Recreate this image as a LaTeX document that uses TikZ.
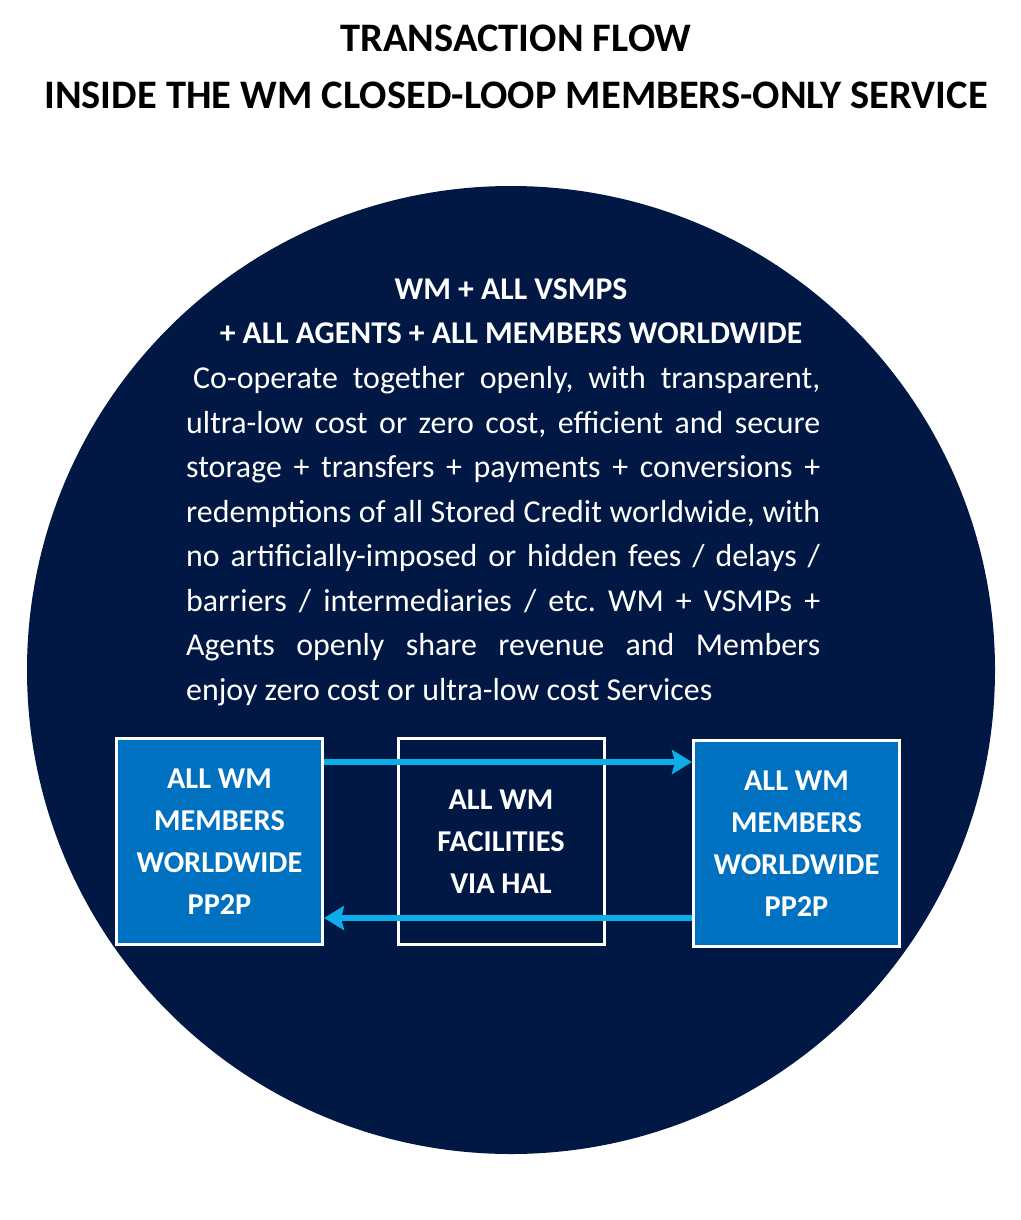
\documentclass[tikz,border=0pt]{standalone}
\usepackage{fontspec}
\setmainfont{Carlito}
\usepackage{tikz}
\usetikzlibrary{arrows.meta,positioning}
\definecolor{wmnavy}{RGB}{1,24,68}
\definecolor{wmblue}{RGB}{0,112,192}
\definecolor{wmflow}{RGB}{12,174,234}
\frenchspacing

\begin{document}
\begin{tikzpicture}[x=1pt, y=-1pt,
  memberbox/.style={draw=white, line width=3pt, fill=wmblue, minimum width=206pt, minimum height=206pt, align=center, text=white, font=\bfseries\fontsize{30.3}{42}\selectfont},
  hubbox/.style={memberbox, fill=wmnavy},
  flowarrow/.style={-{Stealth[length=20pt, width=24pt, inset=3pt]}, line width=5.5pt, draw=wmflow},
  heading/.style={align=center, font=\bfseries\fontsize{40.5}{57}\selectfont}
]
\useasboundingbox (0,0) rectangle (1020,1220);

\node[heading] (title) at (516, 67) {TRANSACTION FLOW\\INSIDE THE WM CLOSED-LOOP MEMBERS-ONLY SERVICE};

\node[circle, fill=wmnavy, minimum size=968pt, inner sep=0pt] (loop) at (511, 670) {};

\node[align=center, text=white, font=\bfseries\fontsize{31.7}{44}\selectfont] (header) at (511, 311) {WM + ALL VSMPS\\+ ALL AGENTS + ALL MEMBERS WORLDWIDE};

\node[anchor=north west, inner sep=0pt, align=left, text=white, font=\fontsize{31.9}{44.5}\selectfont] (body) at (186, 366.5) {%
\makebox[634pt][s]{\hspace{7pt}Co-operate together openly, with transparent,}\\
\makebox[634pt][s]{ultra-low cost or zero cost, efficient and secure}\\
\makebox[634pt][s]{storage + transfers + payments + conversions +}\\
\makebox[634pt][s]{redemptions of all Stored Credit worldwide, with}\\
\makebox[634pt][s]{no artificially-imposed or hidden fees / delays /}\\
\makebox[634pt][s]{barriers / intermediaries / etc. WM + VSMPs +}\\
\makebox[634pt][s]{Agents openly share revenue and Members}\\
enjoy zero cost or ultra-low cost Services};

\node[memberbox] (left) at (219.5, 841.5) {ALL WM\\MEMBERS\\WORLDWIDE\\PP2P};
\node[hubbox] (hub) at (501, 841.5) {ALL WM\\FACILITIES\\VIA HAL};
\node[memberbox] (right) at (796.5, 843.5) {ALL WM\\MEMBERS\\WORLDWIDE\\PP2P};

\draw[flowarrow] ([yshift=-25pt]left.north east) -- ([yshift=-23pt]right.north west);
\draw[flowarrow] ([yshift=30pt]right.south west) -- ([yshift=28pt]left.south east);

\end{tikzpicture}
\end{document}
